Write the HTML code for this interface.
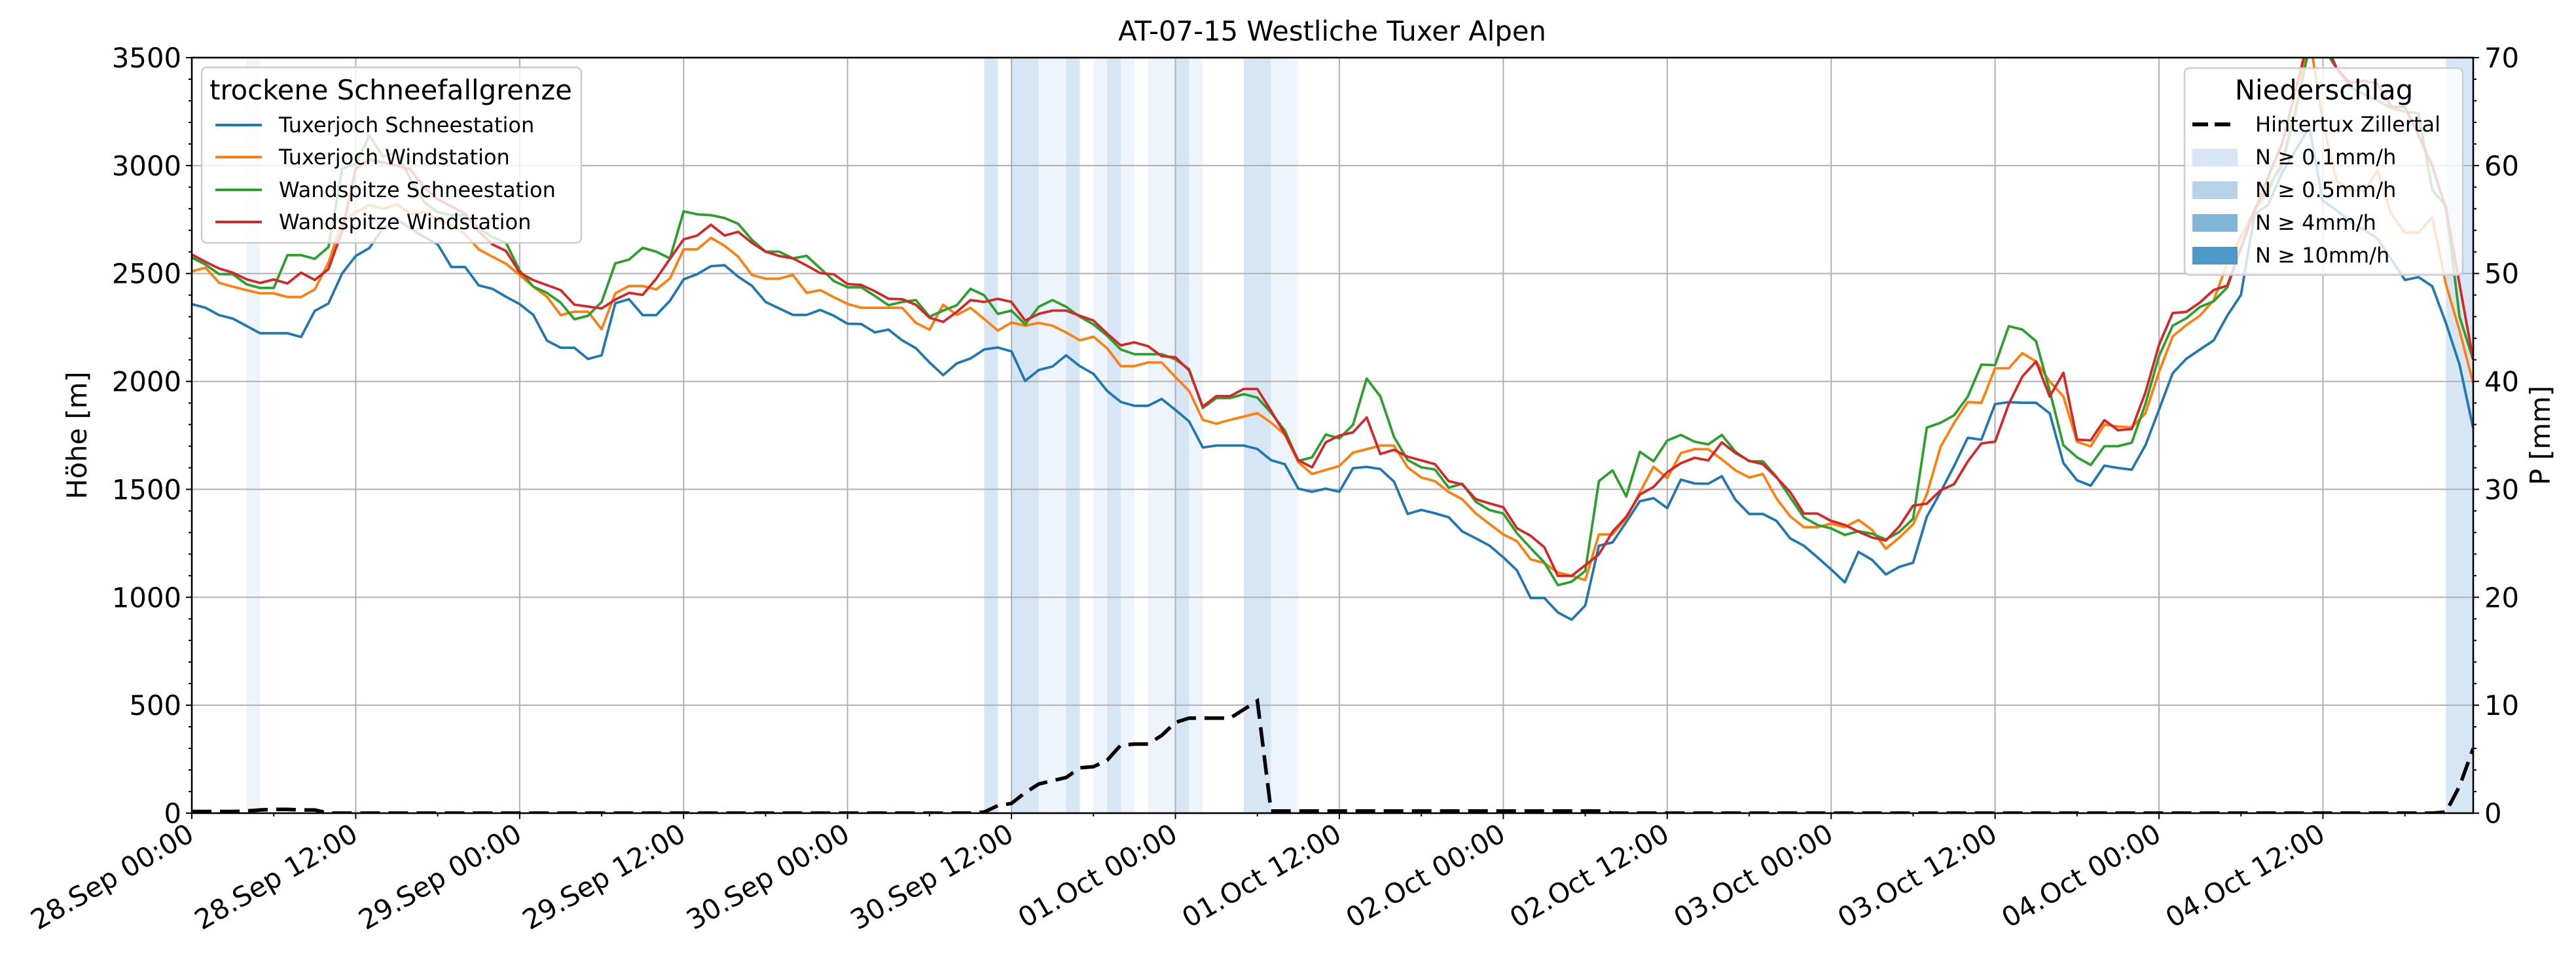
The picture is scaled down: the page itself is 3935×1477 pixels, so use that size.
<!DOCTYPE html>
<html><head><meta charset="utf-8"><title>AT-07-15 Westliche Tuxer Alpen</title>
<style>
html,body{margin:0;padding:0;background:#fff;}
svg{display:block;font-family:"DejaVu Sans","Liberation Sans",sans-serif;}
</style></head>
<body>
<svg id="chart" width="3935" height="1477" viewBox="0 0 3935 1477" xmlns="http://www.w3.org/2000/svg">
<defs><clipPath id="plotclip"><rect x="293" y="88" width="3485" height="1154"/></clipPath></defs>
<rect x="0" y="0" width="3935" height="1477" fill="#fff"/>
<g id="bands" clip-path="url(#plotclip)"></g>
<g id="grid"></g>
<g id="lines" clip-path="url(#plotclip)"></g>
<g id="ticks"></g>
<rect x="293" y="88" width="3485" height="1154" fill="none" stroke="#000" stroke-width="2.6"/>
<text x="2035" y="62" font-size="41.7" text-anchor="middle">AT-07-15 Westliche Tuxer Alpen</text>
<text transform="translate(132,665) rotate(-90)" font-size="41.7" text-anchor="middle">Höhe [m]</text>
<text transform="translate(3895,665) rotate(-90)" font-size="41.7" text-anchor="middle">P [mm]</text>

<g>
<rect x="308" y="103" width="580" height="268" rx="8" fill="#fff" fill-opacity="0.8" stroke="#cccccc" stroke-width="2.5"/>
<text x="597" y="152" font-size="41.7" text-anchor="middle">trockene Schneefallgrenze</text>
<g><line x1="329" y1="191" x2="400" y2="191" stroke="#1f77b4" stroke-width="4"/><text x="426" y="202" font-size="32">Tuxerjoch Schneestation</text></g>
<g><line x1="329" y1="240" x2="400" y2="240" stroke="#ff7f0e" stroke-width="4"/><text x="426" y="251" font-size="32">Tuxerjoch Windstation</text></g>
<g><line x1="329" y1="290" x2="400" y2="290" stroke="#2ca02c" stroke-width="4"/><text x="426" y="301" font-size="32">Wandspitze Schneestation</text></g>
<g><line x1="329" y1="339" x2="400" y2="339" stroke="#d62728" stroke-width="4"/><text x="426" y="350" font-size="32">Wandspitze Windstation</text></g>
</g>

<g>
<rect x="3337" y="104" width="425" height="316" rx="8" fill="#fff" fill-opacity="0.8" stroke="#cccccc" stroke-width="2.5"/>
<text x="3550" y="152" font-size="41.7" text-anchor="middle">Niederschlag</text>
<g><line x1="3349" y1="190" x2="3415" y2="190" stroke="#000" stroke-width="6" stroke-dasharray="24 10"/><text x="3445" y="201" font-size="32">Hintertux Zillertal</text></g>
<g><rect x="3349" y="227" width="69" height="27" fill="#d6e6f4"/><text x="3445" y="251" font-size="32">N ≥ 0.1mm/h</text></g>
<g><rect x="3349" y="277" width="69" height="27" fill="#b6d3ea"/><text x="3445" y="301" font-size="32">N ≥ 0.5mm/h</text></g>
<g><rect x="3349" y="327" width="69" height="27" fill="#80b6d8"/><text x="3445" y="351" font-size="32">N ≥ 4mm/h</text></g>
<g><rect x="3349" y="377" width="69" height="27" fill="#4b98c9"/><text x="3445" y="401" font-size="32">N ≥ 10mm/h</text></g>
</g>

<script>
// ---- data (hourly, hour 0 = 28.Sep 00:00) ----
const xTickLabels = ["28.Sep 00:00","28.Sep 12:00","29.Sep 00:00","29.Sep 12:00","30.Sep 00:00","30.Sep 12:00","01.Oct 00:00","01.Oct 12:00","02.Oct 00:00","02.Oct 12:00","03.Oct 00:00","03.Oct 12:00","04.Oct 00:00","04.Oct 12:00"];
const yTicksLeft = [0,500,1000,1500,2000,2500,3000,3500];
const yTicksRight = [0,10,20,30,40,50,60,70];
const tuxerjochSchnee = [2358,2341,2307,2291,2257,2223,2223,2223,2206,2327,2361,2500,2581,2618,2710,2750,2710,2669,2635,2530,2530,2445,2429,2392,2358,2308,2189,2156,2156,2104,2121,2362,2381,2307,2307,2374,2473,2497,2534,2538,2485,2443,2368,2338,
2308,2308,2331,2304,2267,2266,2227,2240,2190,2154,2088,2029,2084,2106,2148,2157,2139,2002,2053,2069,2121,2071,2035,1956,1905,1887,1887,1919,1868,1815,1694,1703,1703,1703,1687,1635,1617,1503,1489,1503,1489,
1598,1604,1594,1536,1386,1405,1389,1371,1305,1273,1239,1185,1125,997,997,930,896,962,1239,1254,1348,1445,1459,1413,1545,1527,1526,1561,1451,1386,1386,1354,1273,1239,1185,1129,1069,1210,
1173,1106,1141,1160,1373,1486,1608,1739,1730,1895,1904,1901,1901,1852,1622,1542,1517,1610,1599,1591,1704,1869,2038,2105,2148,2190,2305,2401,2775,2819,2967,3071,3176,2836,2793,2740,2702,2662,2566,2470,2483,2441,2270,2078,1782];
const tuxerjochWind = [2510,2527,2457,2439,2423,2408,2408,2391,2391,2426,2550,2737,2784,2818,2800,2820,2777,2784,2750,2723,2683,2612,2578,2545,2493,2439,2392,2307,2323,2323,2242,2408,2442,2442,2426,2477,2612,2612,2665,2628,2578,2493,2476,2476,
2493,2410,2423,2390,2359,2341,2341,2341,2341,2271,2240,2355,2308,2341,2289,2236,2273,2258,2271,2258,2227,2190,2207,2154,2071,2071,2088,2088,2020,1956,1822,1804,1822,1837,1853,1809,1754,1626,1571,1590,1608,
1670,1686,1703,1703,1602,1555,1538,1488,1454,1388,1339,1291,1260,1176,1159,1115,1099,1080,1291,1291,1366,1486,1605,1552,1668,1686,1686,1639,1588,1555,1571,1458,1375,1325,1325,1341,1325,1358,
1312,1225,1277,1338,1477,1695,1808,1904,1901,2061,2061,2131,2092,2000,1930,1721,1699,1800,1791,1787,1852,2044,2209,2261,2305,2375,2549,2671,2793,2880,3019,3263,3600,3200,2927,2888,2880,2978,2775,2690,2690,2760,2450,2235,1991];
const wandspitzeSchnee = [2574,2541,2497,2497,2450,2433,2433,2585,2585,2568,2622,2986,3007,3139,3041,3061,2939,2831,2784,2770,2770,2710,2669,2642,2514,2439,2410,2365,2288,2304,2368,2547,2564,2619,2601,2570,2788,2774,2770,2757,2730,2656,2601,2601,
2570,2582,2524,2465,2436,2436,2396,2353,2368,2377,2300,2328,2353,2429,2399,2313,2328,2264,2346,2377,2346,2300,2264,2212,2148,2126,2126,2126,2102,2057,1877,1923,1923,1941,1925,1855,1773,1632,1648,1754,1736,
1799,2013,1931,1743,1636,1602,1592,1508,1526,1442,1404,1388,1297,1228,1162,1056,1072,1122,1538,1588,1467,1674,1630,1726,1752,1721,1708,1752,1674,1630,1630,1558,1463,1370,1335,1319,1289,1306,
1294,1268,1303,1364,1786,1808,1843,1930,2078,2075,2256,2240,2186,1956,1704,1648,1613,1700,1700,1716,1895,2117,2258,2293,2345,2371,2436,2618,2800,2900,3000,3250,3550,3550,3450,3363,3330,3300,3267,3250,3242,2888,2812,2300,2100];
const wandspitzeWind = [2588,2554,2523,2504,2473,2456,2472,2454,2504,2470,2520,2696,2986,3027,3014,3000,2982,2899,2845,2811,2777,2696,2635,2604,2504,2469,2446,2423,2356,2347,2338,2379,2410,2401,2476,2568,2658,2676,2726,2676,2693,2642,2601,2581,
2570,2537,2502,2496,2451,2447,2418,2383,2381,2355,2295,2276,2322,2377,2368,2383,2368,2282,2313,2328,2328,2304,2282,2222,2167,2181,2163,2117,2112,2051,1883,1932,1932,1965,1965,1864,1758,1635,1602,1718,1749,
1764,1833,1664,1683,1651,1634,1617,1538,1523,1454,1435,1417,1320,1285,1232,1099,1099,1149,1199,1304,1373,1476,1511,1580,1621,1646,1634,1718,1668,1632,1617,1555,1488,1388,1388,1354,1335,1304,
1277,1263,1329,1425,1434,1495,1524,1629,1713,1721,1895,2023,2092,1930,2040,1730,1727,1821,1774,1779,1948,2169,2317,2322,2366,2423,2444,2620,2790,2950,3100,3350,3600,3600,3450,3383,3393,3378,3272,3272,3140,2999,2800,2450,2100];
const precipHintertux = [
0.15,0.15,0.15,0.15,0.2,0.3,0.35,0.35,0.3,0.3,
0,0,0,0,0,0,0,0,0,0, 0,0,0,0,0,0,0,0,0,0, 0,0,0,0,0,0,0,0,0,0, 0,0,0,0,0,0,0,0,0,0, 0,0,0,0,0,0,0,0,
0.1,0.7,0.9,1.9,2.7,3.0,3.3,4.2,4.3,4.9,6.3,6.4,6.4,7.2,8.4,8.8,8.8,8.8,8.8,9.6,10.4,
0.2,0.2,0.2,0.2,0.2,0.2,0.2,0.2,0.2,0.2,0.2,0.2,0.2,0.2,0.2,0.2,0.2,0.2,0.2,0.2,0.2,0.2,0.2,0.2,0.2,
0,0,0,0,0,0,0,0,0,0, 0,0,0,0,0,0,0,0,0,0, 0,0,0,0,0,0,0,0,0,0, 0,0,0,0,0,0,0,0,0,0, 0,0,0,0,0,0,0,0,0,0, 0,0,0,0,0,0,0,0,0,0, 0,
0.1,2.5,6];
const bandHours = [4,58,60,61,62,63,64,66,67,68,70,71,72,73,77,78,79,80,165,166];
const bandLevels = [1,2,2,2,1,1,2,1,2,1,1,1,2,1,2,2,1,1,2,2];

// ---- axes ----
const L=293,R=3778,T=88,B=1242,HMAX=167;
const NS='http://www.w3.org/2000/svg';
[tuxerjochSchnee,tuxerjochWind,wandspitzeSchnee,wandspitzeWind,precipHintertux].forEach((a,i)=>{if(a.length!==HMAX+1)throw new Error('data array '+i+' has '+a.length+' values, expected '+(HMAX+1));});
function x(h){return L+h*(R-L)/HMAX;}
function yL(v){return B-v*(B-T)/3500;}
function yR(p){return B-p*(B-T)/70;}
function mk(tag,attrs,parent){const e=document.createElementNS(NS,tag);for(const k in attrs)e.setAttribute(k,attrs[k]);parent.appendChild(e);return e;}
const bandColors={1:'#eef4fb',2:'#d7e6f4'};

const gBands=document.getElementById('bands');
bandHours.forEach((h,i)=>{
  const r=mk('rect',{x:x(h),y:T,width:x(h+1)-x(h),height:B-T,fill:bandColors[bandLevels[i]]},gBands);
  
  
});

const gGrid=document.getElementById('grid');
xTickLabels.forEach((lab,i)=>{
  const gl=mk('line',{x1:x(i*12),x2:x(i*12),y1:T,y2:B,stroke:'#b0b0b0','stroke-width':2},gGrid);
  
  
});
yTicksLeft.forEach(v=>{
  const gl=mk('line',{x1:L,x2:R,y1:yL(v),y2:yL(v),stroke:'#b0b0b0','stroke-width':2},gGrid);
  
  
});

const gLines=document.getElementById('lines');
const series=[[tuxerjochSchnee,'#1f77b4','line-tuxerjoch-schneestation'],[tuxerjochWind,'#ff7f0e','line-tuxerjoch-windstation'],[wandspitzeSchnee,'#2ca02c','line-wandspitze-schneestation'],[wandspitzeWind,'#d62728','line-wandspitze-windstation']];
series.forEach(s=>{
  const pts=s[0].map((v,h)=>x(h).toFixed(1)+','+yL(v).toFixed(1)).join(' ');
  const pl=mk('polyline',{points:pts,fill:'none',stroke:s[1],'stroke-width':3.8,'stroke-linejoin':'round'},gLines);
  
  
});
const ppts=precipHintertux.map((p,h)=>x(h).toFixed(1)+','+yR(p).toFixed(1)).join(' ');
const pline=mk('polyline',{points:ppts,fill:'none',stroke:'#000','stroke-width':5.5,'stroke-dasharray':'30 13'},gLines);



const gT=document.getElementById('ticks');
for(let h=0;h<=HMAX;h+=6){
  const major=h%12===0;
  const t=mk('line',{x1:x(h),x2:x(h),y1:B,y2:B+(major?9:5),stroke:'#000','stroke-width':2},gT);
  
  
}
xTickLabels.forEach((lab,i)=>{
  const tx=x(i*12)+6, ty=B+40;
  const t=mk('text',{x:tx,y:ty,'font-size':41.7,'text-anchor':'end',transform:'rotate(-30 '+tx+' '+ty+')'},gT);
  t.textContent=lab;
  
  
});
for(let v=0;v<=3500;v+=100){
  const major=v%500===0;
  const t=mk('line',{x1:L,x2:L-(major?9:5),y1:yL(v),y2:yL(v),stroke:'#000','stroke-width':2},gT);
  
  
}
yTicksLeft.forEach(v=>{
  const t=mk('text',{x:L-16,y:yL(v)+15,'font-size':41.7,'text-anchor':'end'},gT);
  t.textContent=String(v);
  
  
});
for(let p=0;p<=70;p+=2){
  const major=p%10===0;
  const t=mk('line',{x1:R,x2:R+(major?9:5),y1:yR(p),y2:yR(p),stroke:'#000','stroke-width':2},gT);
  
  
}
yTicksRight.forEach(p=>{
  const t=mk('text',{x:R+17,y:yR(p)+15,'font-size':41.7,'text-anchor':'start'},gT);
  t.textContent=String(p);
  
  
});
</script>
</svg>
</body></html>
